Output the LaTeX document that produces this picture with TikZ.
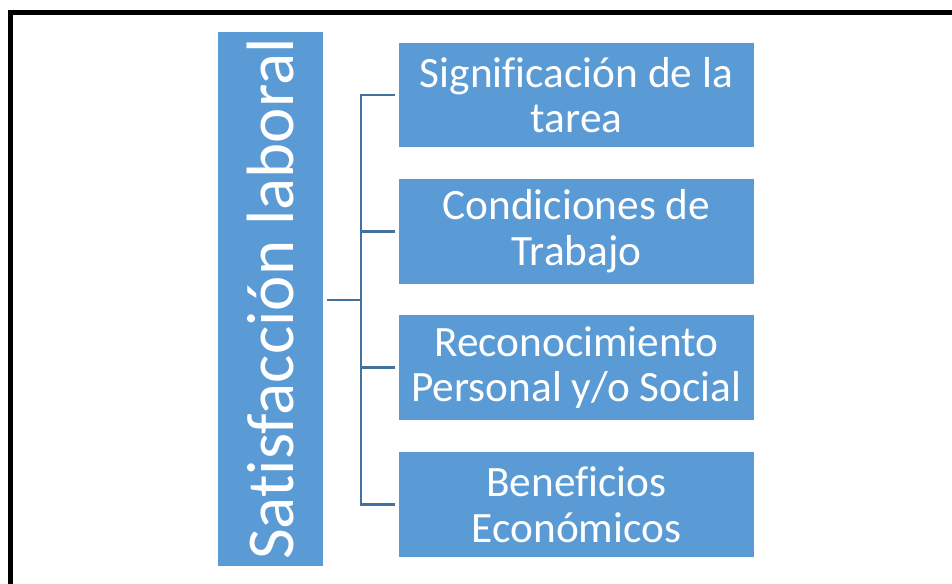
\documentclass[tikz,border=0pt]{standalone}
\usepackage{fontspec}
\setmainfont{Carlito}[Ligatures=NoCommon]
\usetikzlibrary{positioning}

\definecolor{boxblue}{HTML}{5B9BD5}
\definecolor{linkblue}{HTML}{41719C}

\tikzset{
    factor/.style={rectangle, fill=boxblue, text=white, align=center,
        minimum width=8.875cm, minimum height=2.62cm, inner sep=0pt,
        font=\fontsize{30.8}{32.5}\selectfont},
    link/.style={draw=linkblue, line width=1.5pt}
}

\begin{document}
\begin{tikzpicture}[x=0.025cm, y=-0.025cm]
        \useasboundingbox (0,0) rectangle (952,584);
        % frame, only left and top edges show
        \draw[line width=3.4pt] (10.3,584) -- (10.3,12.7) -- (952,12.7);

        \node[rectangle, fill=boxblue, text=white, rotate=90, inner sep=0pt,
              minimum width=13.35cm, minimum height=2.63cm,
              font=\fontsize{47.6}{50}\selectfont] (main) at (270.5,299) {Satisfacción laboral};

        \node[factor] (f1) at (576.5,95) {Significación de la\\tarea};
        \node[factor] (f2) at (576.5,231.5) {Condiciones de\\Trabajo};
        \node[factor] (f3) at (576.5,367.5) {Reconocimiento\\Personal y/o Social};
        \node[factor] (f4) at (576.5,504.5) {Beneficios\\Económicos};

        \coordinate (hub) at (361,300);
        \draw[link, shorten <=0.1cm] (main.south |- hub) -- (hub);
        \draw[link, shorten >=0.1cm] (hub) |- (f1.west);
        \draw[link, shorten >=0.1cm] (hub) |- (f2.west);
        \draw[link, shorten >=0.1cm] (hub) |- (f3.west);
        \draw[link, shorten >=0.1cm] (hub) |- (f4.west);
    \end{tikzpicture}
\end{document}
